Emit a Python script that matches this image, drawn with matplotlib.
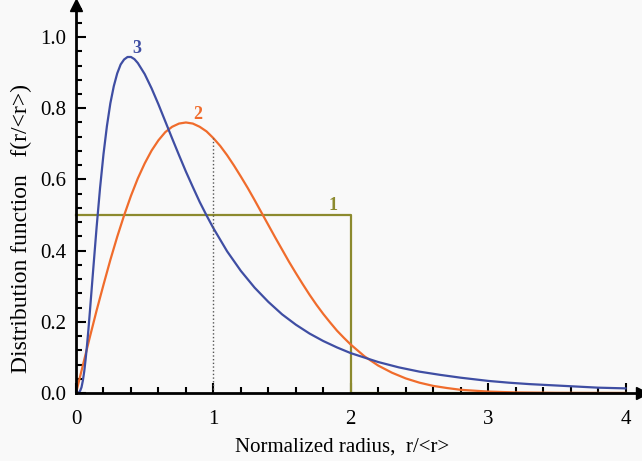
import numpy as np
import matplotlib.pyplot as plt
from matplotlib.ticker import MultipleLocator

# curve 1 - uniform distribution (step)
x1 = [0.0, 2.0, 2.0, 4.0]
y1 = [0.5, 0.5, 0.0, 0.0]

# curve 2
x2 = [0.0, 0.05, 0.1, 0.15, 0.2, 0.25, 0.3, 0.35, 0.4, 0.45,
      0.5, 0.55, 0.6, 0.65, 0.7, 0.75, 0.8, 0.85, 0.9, 0.95,
      1.0, 1.05, 1.1, 1.15, 1.2, 1.25, 1.3, 1.35, 1.4, 1.45,
      1.5, 1.55, 1.6, 1.65, 1.7, 1.75, 1.8, 1.85, 1.9, 1.95,
      2.0, 2.1, 2.2, 2.3, 2.4, 2.5, 2.6, 2.7, 2.8, 3.0,
      3.2, 3.5, 4.0]
y2 = [0.0, 0.078, 0.156, 0.232, 0.304, 0.374, 0.439, 0.499, 0.554, 0.603,
      0.645, 0.681, 0.710, 0.733, 0.748, 0.757, 0.760, 0.757, 0.748, 0.735,
      0.716, 0.694, 0.668, 0.639, 0.608, 0.576, 0.542, 0.507, 0.472, 0.437,
      0.403, 0.369, 0.337, 0.306, 0.276, 0.248, 0.222, 0.198, 0.175, 0.155,
      0.136, 0.103, 0.077, 0.057, 0.041, 0.029, 0.020, 0.014, 0.009, 0.004,
      0.0016, 0.0004, 0.0]

# curve 3
x3 = [0.0, 0.02, 0.03, 0.04, 0.05, 0.06, 0.07, 0.08, 0.09, 0.1,
      0.125, 0.15, 0.175, 0.2, 0.225, 0.25, 0.275, 0.3, 0.325, 0.35,
      0.375, 0.4, 0.425, 0.45, 0.5, 0.55, 0.6, 0.65, 0.7, 0.75,
      0.8, 0.85, 0.9, 0.95, 1.0, 1.1, 1.2, 1.3, 1.4, 1.5,
      1.6, 1.7, 1.8, 1.9, 2.0, 2.2, 2.35, 2.5, 2.65, 2.8,
      3.0, 3.15, 3.3, 3.6, 3.8, 4.0]
y3 = [0.0, 0.001, 0.006, 0.016, 0.035, 0.061, 0.095, 0.134, 0.177, 0.224,
      0.346, 0.466, 0.576, 0.671, 0.750, 0.814, 0.862, 0.898, 0.923, 0.937,
      0.944, 0.944, 0.938, 0.927, 0.896, 0.856, 0.811, 0.763, 0.715, 0.668,
      0.622, 0.579, 0.537, 0.499, 0.463, 0.398, 0.343, 0.296, 0.256, 0.221,
      0.192, 0.167, 0.146, 0.128, 0.112, 0.087, 0.072, 0.060, 0.051, 0.043,
      0.034, 0.029, 0.025, 0.019, 0.015, 0.013]

c1 = '#8c8a2e'
c2 = '#f06c2c'
c3 = '#3f4ea3'

plt.rcParams['font.family'] = ['Liberation Serif', 'DejaVu Serif']

fig = plt.figure(figsize=(6.42, 4.61), dpi=100, facecolor='#f9f9f9')
ax = fig.add_axes([0.1184, 0.1475, 0.8816, 0.8416])
ax.set_facecolor('#f9f9f9')

ax.plot(x1, y1, color=c1, lw=1.6, clip_on=False)
ax.plot(x2, y2, color=c2, lw=1.6)
ax.plot(x3, y3, color=c3, lw=1.6)
ax.plot([1, 1], [0, y2[x2.index(1.0)]], color='#555555', lw=1, ls=':')

ax.text(1.84, 0.515, '1', color=c1, fontsize=13, fontweight='bold')
ax.text(0.85, 0.77, '2', color=c2, fontsize=13, fontweight='bold')
ax.text(0.41, 0.955, '3', color=c3, fontsize=13, fontweight='bold')

ax.set_xlim(0, 4.12)
ax.set_ylim(0, 1.09)
ax.xaxis.set_minor_locator(MultipleLocator(0.2))
ax.yaxis.set_minor_locator(MultipleLocator(0.04))
ax.set_xticks([0, 1, 2, 3, 4])
ax.set_yticks([0, 0.2, 0.4, 0.6, 0.8, 1.0])
ax.set_yticklabels(['0.0', '0.2', '0.4', '0.6', '0.8', '1.0'])
ax.tick_params(which='both', direction='in', width=1.5, labelsize=15)
ax.tick_params(axis='x', pad=12)
ax.tick_params(axis='y', pad=7)
ax.tick_params(which='major', length=7)
ax.tick_params(which='minor', length=4)

for s in ['top', 'right']:
    ax.spines[s].set_visible(False)
for s in ['left', 'bottom']:
    ax.spines[s].set_linewidth(2)

# arrow heads on the axes
ax.plot(1, 0, '>k', ms=9, transform=ax.get_yaxis_transform(), clip_on=False)
ax.plot(0, 1, '^k', ms=9, transform=ax.get_xaxis_transform(), clip_on=False)

ax.set_xlabel('Normalized radius,  r/<r>', fontsize=15)
ax.xaxis.set_label_coords(0.47, -0.115)
ax.set_ylabel('Distribution function   f(r/<r>)', fontsize=17)
ax.yaxis.set_label_coords(-0.078, 0.425)

fig.savefig('out.png', dpi=100, facecolor=fig.get_facecolor())
